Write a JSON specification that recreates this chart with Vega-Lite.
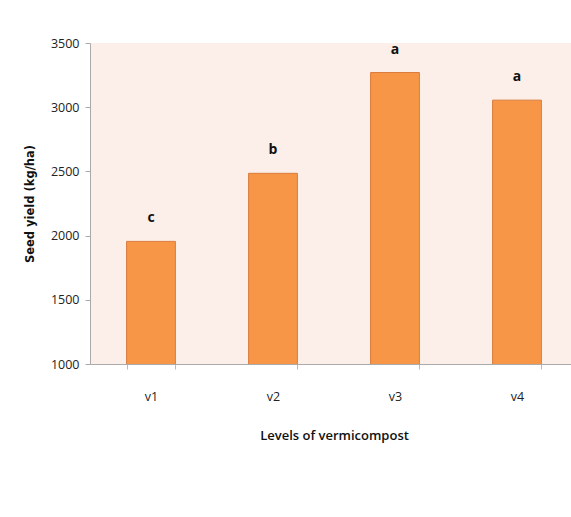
{
  "$schema": "https://vega.github.io/schema/vega-lite/v6.json",
  "autosize": "none",
  "width": 488,
  "height": 321,
  "padding": {"left": 90, "top": 43, "right": 0, "bottom": 153},
  "background": "white",
  "config": {
    "view": {"fill": "#FCEEE9", "stroke": null}
  },
  "data": {
    "values": [
      {"level": "v1", "yield": 1955, "group": "c"},
      {"level": "v2", "yield": 2485, "group": "b"},
      {"level": "v3", "yield": 3270, "group": "a"},
      {"level": "v4", "yield": 3055, "group": "a"}
    ]
  },
  "encoding": {
    "x": {
      "field": "level",
      "type": "nominal",
      "scale": {"paddingInner": 0.6, "paddingOuter": 0.3},
      "axis": {
        "title": "Levels of vermicompost",
        "titleFont": "Open Sans",
        "titleFontSize": 13,
        "titleFontWeight": 600,
        "titleColor": "#111",
        "titlePadding": 27,
        "labelAngle": 0,
        "labelFont": "Open Sans",
        "labelFontSize": 12.5,
        "labelColor": "#222",
        "labelPadding": 21,
        "tickBand": "extent",
        "tickSize": 5,
        "tickColor": "#bbbbbb",
        "domainColor": "#aaaaaa"
      }
    },
    "y": {
      "field": "yield",
      "type": "quantitative",
      "scale": {"domain": [1000, 3500], "zero": false, "nice": false},
      "axis": {
        "title": "Seed yield (kg/ha)",
        "titleFont": "DejaVu Sans",
        "titleFontSize": 11.5,
        "titleFontWeight": "bold",
        "titleColor": "#111",
        "titlePadding": 15,
        "values": [1000, 1500, 2000, 2500, 3000, 3500],
        "format": "d",
        "labelFont": "Open Sans",
        "labelFontSize": 12.5,
        "labelColor": "#222",
        "labelPadding": 6,
        "tickSize": 5,
        "tickColor": "#aaaaaa",
        "domainColor": "#aaaaaa",
        "grid": false
      }
    }
  },
  "layer": [
    {
      "mark": {"type": "bar", "fill": "#F79646", "stroke": "#D97B3C", "strokeWidth": 1, "clip": true}
    },
    {
      "mark": {"type": "text", "dy": -23, "font": "Open Sans", "fontSize": 14, "fontWeight": "bold", "color": "#111"},
      "encoding": {"text": {"field": "group"}}
    }
  ]
}
